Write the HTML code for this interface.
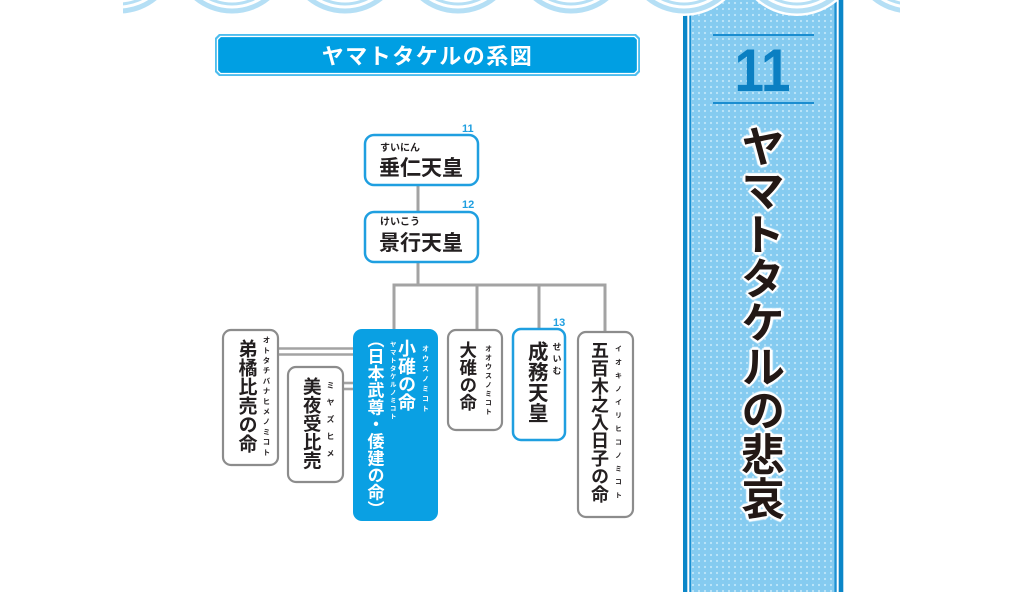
<!DOCTYPE html>
<html><head><meta charset="utf-8">
<style>
html,body{margin:0;padding:0;background:#fff;}
#c{position:relative;width:1024px;height:592px;overflow:hidden;background:#fff;font-family:"Liberation Sans","Noto Sans CJK JP",sans-serif;}
.a{position:absolute;white-space:nowrap;line-height:1;font-family:"Noto Sans CJK JP",sans-serif;font-weight:700;color:#231f20;}
.v{position:absolute;writing-mode:vertical-rl;white-space:nowrap;font-family:"Noto Sans CJK JP",sans-serif;line-height:1;font-weight:700;color:#231f20;}
.w{color:#fff;}
</style></head><body><div id="c">
<svg width="1024" height="592" style="position:absolute;left:0;top:0" xmlns="http://www.w3.org/2000/svg">
<defs>
<pattern id="dots" width="6" height="6" patternUnits="userSpaceOnUse">
<rect width="6" height="6" fill="#85cbf0"/>
<circle cx="3" cy="3" r="1.1" fill="#bfe6f9"/>
</pattern>
<clipPath id="sc"><rect x="123" y="0" width="777" height="40"/></clipPath>
</defs>
<!-- banner -->
<rect x="683" y="0" width="160.3" height="600" fill="#0a86c8"/>
<rect x="687.3" y="0" width="151.4" height="600" fill="#fff"/>
<rect x="689.3" y="0" width="147.4" height="600" fill="#1b90d2"/>
<rect x="691" y="0" width="143.4" height="600" fill="url(#dots)"/>
<line x1="713" y1="35" x2="814" y2="35" stroke="#1a8dd0" stroke-width="2"/>
<line x1="713" y1="103" x2="814" y2="103" stroke="#1a8dd0" stroke-width="2"/>
<text x="734.5" y="91" font-family="Liberation Sans" font-weight="bold" font-size="60" fill="#0b7fc2" textLength="56" lengthAdjust="spacingAndGlyphs">11</text>
<!-- scallops -->
<g clip-path="url(#sc)">
<circle cx="119" cy="-46" r="62" fill="#fff"/><circle cx="232" cy="-46" r="62" fill="#fff"/><circle cx="345" cy="-46" r="62" fill="#fff"/><circle cx="458" cy="-46" r="62" fill="#fff"/><circle cx="571" cy="-46" r="62" fill="#fff"/><circle cx="684" cy="-46" r="62" fill="#fff"/><circle cx="797" cy="-46" r="62" fill="#fff"/><circle cx="910" cy="-46" r="62" fill="#fff"/>
<g fill="none" stroke="#b5dff5">
<circle cx="119" cy="-46" r="57" stroke-width="5"/><circle cx="119" cy="-46" r="50" stroke-width="3"/>
<circle cx="232" cy="-46" r="57" stroke-width="5"/><circle cx="232" cy="-46" r="50" stroke-width="3"/>
<circle cx="345" cy="-46" r="57" stroke-width="5"/><circle cx="345" cy="-46" r="50" stroke-width="3"/>
<circle cx="458" cy="-46" r="57" stroke-width="5"/><circle cx="458" cy="-46" r="50" stroke-width="3"/>
<circle cx="571" cy="-46" r="57" stroke-width="5"/><circle cx="571" cy="-46" r="50" stroke-width="3"/>
<circle cx="684" cy="-46" r="57" stroke-width="5"/><circle cx="684" cy="-46" r="50" stroke-width="3"/>
<circle cx="797" cy="-46" r="57" stroke-width="5"/><circle cx="797" cy="-46" r="50" stroke-width="3"/>
<circle cx="910" cy="-46" r="57" stroke-width="5"/><circle cx="910" cy="-46" r="50" stroke-width="3"/>
</g>
</g>
<!-- heading -->
<path d="M219,34 H636 L640,38 V72 L636,76 H219 L215,72 V38 Z" fill="#4dbdee"/>
<path d="M220.5,36.5 H634.5 L637.5,39.5 V70.5 L634.5,73.5 H220.5 L217.5,70.5 V39.5 Z" fill="#009fe3" stroke="#fff" stroke-width="1.3"/>
<!-- connectors -->
<g stroke="#a3a3a3" stroke-width="3" fill="none">
<line x1="418" y1="185" x2="418" y2="212"/>
<line x1="418" y1="262" x2="418" y2="285"/>
<line x1="392.5" y1="285" x2="606.5" y2="285"/>
<line x1="394" y1="285" x2="394" y2="330"/>
<line x1="477" y1="285" x2="477" y2="330"/>
<line x1="539" y1="285" x2="539" y2="330"/>
<line x1="605" y1="285" x2="605" y2="332"/>
</g>
<g stroke="#a3a3a3" stroke-width="2.6" fill="none">
<line x1="277" y1="348.5" x2="354" y2="348.5"/>
<line x1="277" y1="354.5" x2="354" y2="354.5"/>
<line x1="342" y1="383" x2="354" y2="383"/>
<line x1="342" y1="389" x2="354" y2="389"/>
</g>
<!-- boxes -->
<rect x="365" y="135" width="113" height="50" rx="9" fill="#fff" stroke="#1f9fe0" stroke-width="2.5"/>
<rect x="365" y="212" width="113" height="50" rx="9" fill="#fff" stroke="#1f9fe0" stroke-width="2.5"/>
<rect x="223" y="330" width="55" height="135" rx="8" fill="#fff" stroke="#8c8c8c" stroke-width="2.2"/>
<rect x="288" y="367" width="55" height="115" rx="8" fill="#fff" stroke="#8c8c8c" stroke-width="2.2"/>
<rect x="353" y="329" width="85" height="192" rx="9" fill="#0aa0e3"/>
<rect x="448" y="330" width="54" height="100" rx="8" fill="#fff" stroke="#8c8c8c" stroke-width="2.2"/>
<rect x="513" y="329" width="52" height="111" rx="8" fill="#fff" stroke="#1f9fe0" stroke-width="2.5"/>
<rect x="578" y="332" width="55" height="185" rx="8" fill="#fff" stroke="#8c8c8c" stroke-width="2.2"/>
<!-- numbers -->
<g font-family="Liberation Sans" font-weight="bold" font-size="11" fill="#1f9fe0">
<text x="462" y="132">11</text>
<text x="462" y="208">12</text>
<text x="553" y="326">13</text>
</g>
</svg>

<div class="a w" style="left:215px;top:44px;width:425px;text-align:center;font-size:22px;letter-spacing:1.5px;">ヤマトタケルの系図</div>

<div class="a" style="left:380px;top:142px;font-size:10px;">すいにん</div>
<div class="a" style="left:379px;top:157px;font-size:21px;">垂仁天皇</div>
<div class="a" style="left:380px;top:216px;font-size:10px;">けいこう</div>
<div class="a" style="left:379px;top:232px;font-size:21px;">景行天皇</div>

<div class="v" style="left:238.5px;top:339px;font-size:19px;">弟橘比売の命</div>
<div class="v" style="left:262.5px;top:336px;font-size:7.5px;letter-spacing:2.7px;">オトタチバナヒメノミコト</div>

<div class="v" style="left:302.75px;top:377px;font-size:18.5px;">美夜受比売</div>
<div class="v" style="left:326px;top:381px;font-size:8px;letter-spacing:9px;">ミヤズヒメ</div>

<div class="v w" style="left:398px;top:339px;font-size:18px;">小碓の命</div>
<div class="v w" style="left:421.5px;top:345px;font-size:7px;letter-spacing:3px;">オウスノミコト</div>
<div class="v w" style="left:367.5px;top:339px;font-size:17px;"><span style="margin-top:-0.5em;">（</span>日本武尊・倭建の命）</div>
<div class="v w" style="left:389.75px;top:341px;font-size:6.5px;letter-spacing:1.5px;">ヤマトタケルノミコト</div>

<div class="v" style="left:459.25px;top:341px;font-size:17.5px;">大碓の命</div>
<div class="v" style="left:484.5px;top:345px;font-size:7px;letter-spacing:2px;">オオウスノミコト</div>

<div class="v" style="left:527.75px;top:341px;font-size:20.5px;">成務天皇</div>
<div class="v" style="left:552.5px;top:342px;font-size:9px;letter-spacing:3px;">せいむ</div>

<div class="v" style="left:591px;top:341px;font-size:18px;">五百木之入日子の命</div>
<div class="v" style="left:614.5px;top:345px;font-size:7px;letter-spacing:6.3px;">イオキノイリヒコノミコト</div>

<div class="v" style="left:741px;top:124px;font-size:44px;color:#231815;text-shadow:2px 0 0 #fff,-2px 0 0 #fff,0 2px 0 #fff,0 -2px 0 #fff,1.5px 1.5px 0 #fff,-1.5px 1.5px 0 #fff,1.5px -1.5px 0 #fff,-1.5px -1.5px 0 #fff,3px 0 1px #fff,-3px 0 1px #fff,0 3px 1px #fff,0 -3px 1px #fff;">ヤマトタケルの悲哀</div>
</div></body></html>
